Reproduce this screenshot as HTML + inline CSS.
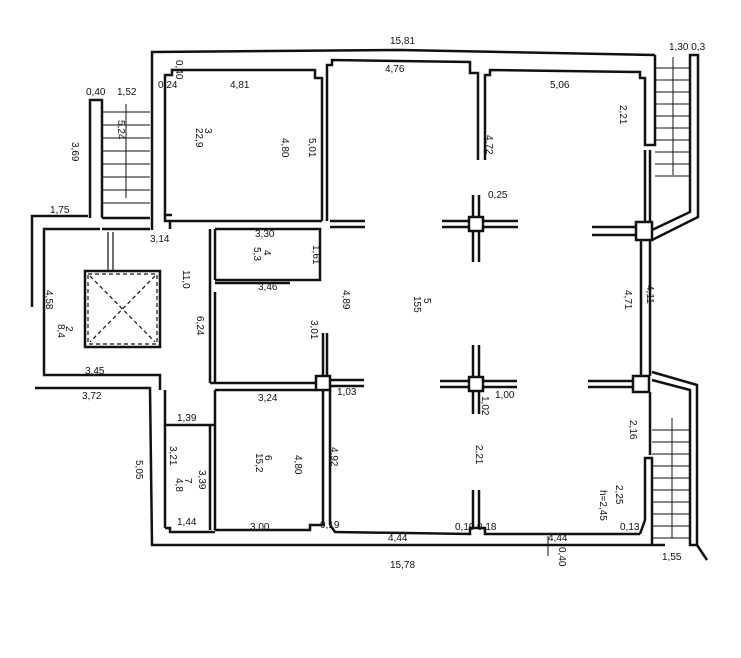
<!DOCTYPE html>
<html><head><style>
html,body{margin:0;padding:0;background:#fff;}
svg{display:block;}
text{font-family:"Liberation Sans",sans-serif;font-size:10px;fill:#111;}
</style></head><body>
<svg width="741" height="658" viewBox="0 0 741 658" xmlns="http://www.w3.org/2000/svg">
<rect width="741" height="658" fill="#fff"/>
<g fill="none" stroke="#111" stroke-width="2.5">
<polyline points="152,230 152,52 400,50 655,55"/>
<polyline points="165,215 165,75 172,75 172,70 315,70 315,78 322,78 322,221"/>
<polyline points="172,215 165,215 165,221 322,221"/>
<polyline points="327,221 327,65 332,65 332,60 470,62 470,73 478,73 478,160"/>
<polyline points="485,160 485,75 490,75 490,70 640,72 640,78 645,78 645,145 655,145 655,55"/>
<polyline points="90,218 90,100 102,100 102,218"/>
<line x1="102" y1="218" x2="150" y2="218"/>
<line x1="102" y1="229" x2="150" y2="229"/>
<polyline points="88,216 32,216 32,307"/>
<polyline points="100,229 44,229 44,375 160,375 160,390"/>
<polyline points="35,388 150,388 152,545 665,545"/>
<polyline points="165,390 165,425 215,425"/>
<line x1="165" y1="425" x2="165" y2="528"/>
<polyline points="165,528 170,528 170,532 215,532"/>
<line x1="210" y1="229" x2="210" y2="383"/>
<line x1="215" y1="229" x2="215" y2="280"/>
<line x1="215" y1="292" x2="215" y2="383"/>
<polyline points="215,229 320,229 320,280 215,280"/>
<line x1="215" y1="283" x2="290" y2="283"/>
<line x1="170" y1="221" x2="170" y2="229"/>
<line x1="330" y1="221" x2="365" y2="221"/>
<line x1="330" y1="227" x2="365" y2="227"/>
<polyline points="210,383 316,383"/>
<polyline points="215,390 316,390"/>
<line x1="215" y1="390" x2="215" y2="530"/>
<line x1="210" y1="425" x2="210" y2="530"/>
<polyline points="215,530 310,530 310,525 323,525 323,390"/>
<line x1="330" y1="390" x2="330" y2="525"/>
<rect x="316" y="376" width="14" height="14"/>
<line x1="323" y1="333" x2="323" y2="376"/>
<line x1="327" y1="333" x2="327" y2="376"/>
<line x1="330" y1="380" x2="364" y2="380"/>
<line x1="330" y1="386" x2="364" y2="386"/>
<polyline points="330,525 335,532 470,534 470,528 485,528 485,534 640,534"/>
<rect x="469" y="217" width="14" height="14"/>
<line x1="442" y1="221" x2="469" y2="221"/><line x1="442" y1="227" x2="469" y2="227"/>
<line x1="483" y1="221" x2="518" y2="221"/><line x1="483" y1="227" x2="518" y2="227"/>
<line x1="473" y1="231" x2="473" y2="262"/><line x1="479" y1="231" x2="479" y2="262"/>
<line x1="473" y1="195" x2="473" y2="217"/><line x1="479" y1="195" x2="479" y2="217"/>
<rect x="469" y="377" width="14" height="14"/>
<line x1="440" y1="381" x2="469" y2="381"/><line x1="440" y1="387" x2="469" y2="387"/>
<line x1="483" y1="381" x2="517" y2="381"/><line x1="483" y1="387" x2="517" y2="387"/>
<line x1="473" y1="391" x2="473" y2="414"/><line x1="479" y1="391" x2="479" y2="414"/>
<line x1="473" y1="345" x2="473" y2="377"/><line x1="479" y1="345" x2="479" y2="377"/>
<line x1="473" y1="490" x2="473" y2="528"/><line x1="479" y1="490" x2="479" y2="528"/>
<rect x="636" y="222" width="16" height="18"/>
<line x1="592" y1="227" x2="636" y2="227"/><line x1="592" y1="235" x2="636" y2="235"/>
<line x1="645" y1="150" x2="645" y2="222"/><line x1="650" y1="150" x2="650" y2="222"/>
<polyline points="652,240 698,217 698,55 690,55 690,212 652,230"/>
<line x1="641" y1="240" x2="641" y2="376"/><line x1="650" y1="240" x2="650" y2="376"/>
<rect x="633" y="376" width="16" height="16"/>
<line x1="588" y1="381" x2="633" y2="381"/><line x1="588" y1="387" x2="633" y2="387"/>
<polyline points="652,372 697,385 697,545 690,545 690,390 652,380"/>
<polyline points="640,534 645,520 645,458 652,458 652,545"/>
<line x1="650" y1="392" x2="650" y2="455"/>
<line x1="697" y1="545" x2="707" y2="560"/>
</g>
<g stroke="#111" stroke-width="1">
<path d="M102,112H150M102,125H150M102,138H150M102,151H150M102,164H150M102,177H150M102,190H150M102,203H150"/>
<line x1="126" y1="104" x2="126" y2="198"/>
<path d="M655,68H690M655,80H690M655,92H690M655,104H690M655,116H690M655,128H690M655,140H690M655,152H690M655,164H690M655,176H690"/>
<line x1="673" y1="57" x2="673" y2="175"/>
<path d="M652,430H690M652,442H690M652,454H690M652,466H690M652,478H690M652,490H690M652,502H690M652,514H690M652,526H690M652,538H690"/>
<line x1="672" y1="418" x2="672" y2="538"/>
<line x1="548" y1="536" x2="548" y2="556"/>
</g>
<g fill="none" stroke="#111" stroke-width="2.5">
<rect x="85" y="271" width="75" height="76"/>
</g>
<g fill="none" stroke="#111" stroke-width="1.2" stroke-dasharray="4,3">
<rect x="88" y="274" width="69" height="70"/>
<line x1="90" y1="276" x2="155" y2="342"/><line x1="155" y1="276" x2="90" y2="342"/>
</g>
<g stroke="#111" stroke-width="1.2">
<line x1="108" y1="232" x2="108" y2="271"/><line x1="113" y1="232" x2="113" y2="271"/>
</g>
<text x="390" y="44">15,81</text>
<text x="669" y="50">1,30 0,3</text>
<text x="86" y="95">0,40</text><text x="117" y="95">1,52</text>
<text x="158" y="88">0,24</text>
<text x="230" y="88">4,81</text>
<text x="385" y="72">4,76</text>
<text x="550" y="88">5,06</text>
<text x="50" y="213">1,75</text>
<text x="150" y="242">3,14</text>
<text x="255" y="237">3,30</text>
<text x="258" y="290">3,46</text>
<text x="488" y="198">0,25</text>
<text x="85" y="374">3,45</text>
<text x="82" y="399">3,72</text>
<text x="258" y="401">3,24</text>
<text x="337" y="395">1,03</text>
<text x="495" y="398">1,00</text>
<text x="177" y="421">1,39</text>
<text x="177" y="525">1,44</text>
<text x="250" y="530">3,00</text>
<text x="320" y="528">0,19</text>
<text x="388" y="541">4,44</text>
<text x="455" y="530">0,19</text><text x="477" y="530">0,18</text>
<text x="548" y="541">4,44</text>
<text x="620" y="530">0,13</text>
<text x="390" y="568">15,78</text>
<text x="662" y="560">1,55</text>
<g font-size="10">
<text transform="translate(176,60) rotate(90)">0,40</text>
<text transform="translate(118,120) rotate(90)">5,24</text>
<text transform="translate(72,142) rotate(90)">3,69</text>
<text transform="translate(205,128) rotate(90)">3</text>
<text transform="translate(196,128) rotate(90)">22,9</text>
<text transform="translate(282,138) rotate(90)">4,80</text>
<text transform="translate(309,138) rotate(90)">5,01</text>
<text transform="translate(486,135) rotate(90)">4,72</text>
<text transform="translate(620,105) rotate(90)">2,21</text>
<text transform="translate(313,245) rotate(90)">1,61</text>
<text transform="translate(264,250) rotate(90)">4</text>
<text transform="translate(254,247) rotate(90)">5,3</text>
<text transform="translate(183,270) rotate(90)">11,0</text>
<text transform="translate(46,290) rotate(90)">4,58</text>
<text transform="translate(66,326) rotate(90)">2</text>
<text transform="translate(58,324) rotate(90)">8,4</text>
<text transform="translate(197,316) rotate(90)">6,24</text>
<text transform="translate(343,290) rotate(90)">4,89</text>
<text transform="translate(424,298) rotate(90)">5</text>
<text transform="translate(414,296) rotate(90)">155</text>
<text transform="translate(311,320) rotate(90)">3,01</text>
<text transform="translate(482,396) rotate(90)">1,02</text>
<text transform="translate(476,445) rotate(90)">2,21</text>
<text transform="translate(625,290) rotate(90)">4,71</text>
<text transform="translate(647,285) rotate(90)">4,11</text>
<text transform="translate(630,420) rotate(90)">2,16</text>
<text transform="translate(616,485) rotate(90)">2,25</text>
<text transform="translate(600,490) rotate(90)">h=2,45</text>
<text transform="translate(136,460) rotate(90)">5,05</text>
<text transform="translate(170,446) rotate(90)">3,21</text>
<text transform="translate(199,470) rotate(90)">3,39</text>
<text transform="translate(185,478) rotate(90)">7</text>
<text transform="translate(176,478) rotate(90)">4,8</text>
<text transform="translate(265,455) rotate(90)">6</text>
<text transform="translate(256,453) rotate(90)">15,2</text>
<text transform="translate(295,455) rotate(90)">4,80</text>
<text transform="translate(331,447) rotate(90)">4,92</text>
<text transform="translate(559,547) rotate(90)">0,40</text>
</g>
</svg>
</body></html>
